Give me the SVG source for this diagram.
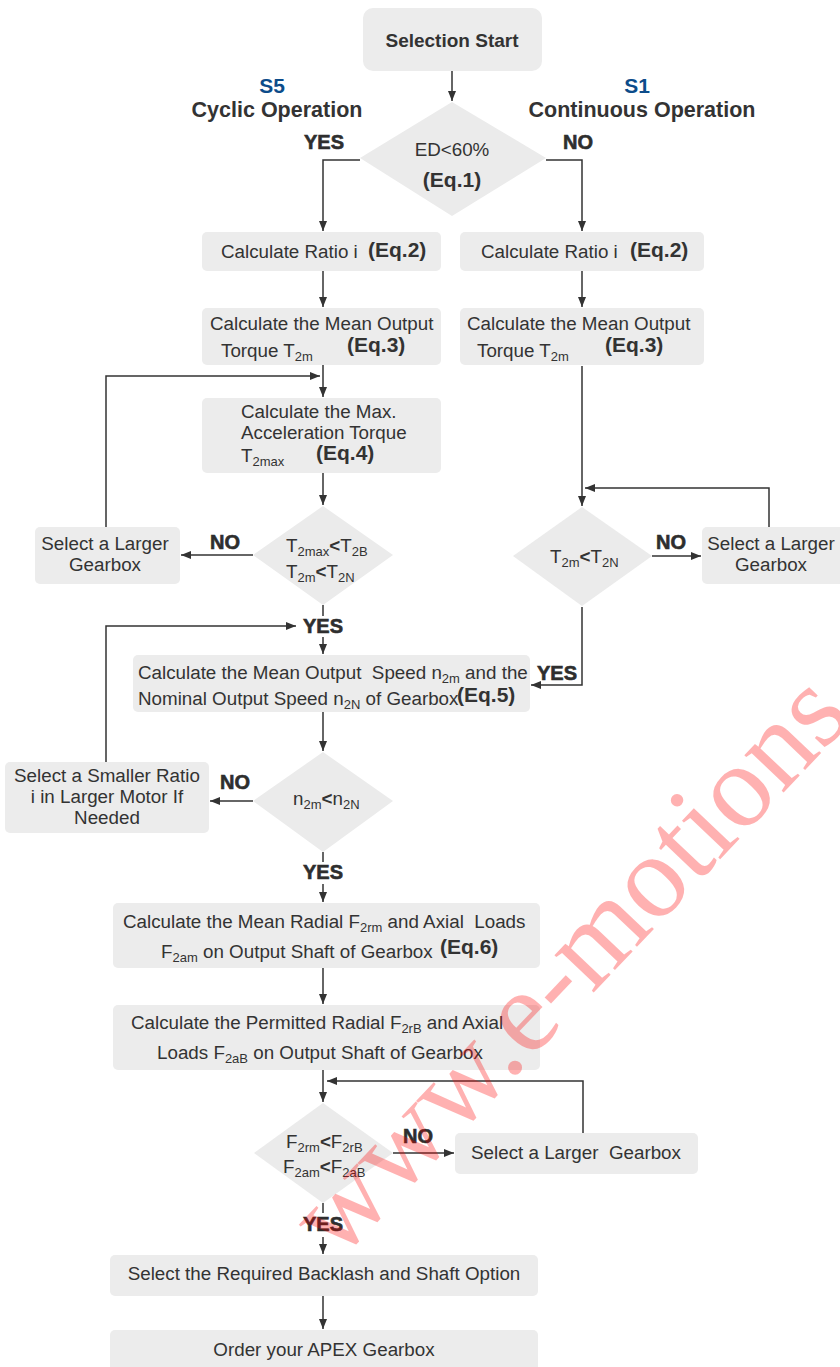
<svg xmlns="http://www.w3.org/2000/svg" width="840" height="1367" viewBox="0 0 840 1367">
<defs>
<marker id="ah" markerUnits="userSpaceOnUse" markerWidth="10" markerHeight="8" refX="10" refY="4" orient="auto">
<path d="M0,0 L10,4 L0,8 Z" fill="#333"/>
</marker>
<style>
.box{fill:#ececec;}
.dia{fill:#ebebeb;}
.t{font-family:"Liberation Sans",Arial,sans-serif;font-size:18.8px;fill:#333;}
.b{font-family:"Liberation Sans",Arial,sans-serif;font-size:19px;font-weight:bold;fill:#333;}
.lab{font-family:"Liberation Sans",Arial,sans-serif;font-size:20px;font-weight:bold;fill:#2e2e2e;stroke:#2e2e2e;stroke-width:0.6;}
.eq{font-family:"Liberation Sans",Arial,sans-serif;font-size:21px;font-weight:bold;fill:#333;}
.hd{font-family:"Liberation Sans",Arial,sans-serif;font-size:21.5px;font-weight:bold;fill:#333;}
.blue{font-family:"Liberation Sans",Arial,sans-serif;font-size:21px;font-weight:bold;fill:#0c4c8a;}
.c{text-anchor:middle;}
.s{font-size:13px;}
.ln{fill:none;stroke:#333;stroke-width:1.5;}
.wm{font-family:"Liberation Serif","Times New Roman",serif;font-size:118px;fill:#ff0000;opacity:0.3;}
</style>
</defs>

<g id="connectors">
<path class="ln" d="M452,71 V101" marker-end="url(#ah)"/>
<path class="ln" d="M360,160 H323 V231" marker-end="url(#ah)"/>
<path class="ln" d="M546,160 H582 V231" marker-end="url(#ah)"/>
<path class="ln" d="M323,271 V307" marker-end="url(#ah)"/>
<path class="ln" d="M582,271 V307" marker-end="url(#ah)"/>
<path class="ln" d="M323,365 V397" marker-end="url(#ah)"/>
<path class="ln" d="M106,527 V376 H320" marker-end="url(#ah)"/>
<path class="ln" d="M323,473 V505" marker-end="url(#ah)"/>
<path class="ln" d="M253,555 H181" marker-end="url(#ah)"/>
<path class="ln" d="M582,366 V506" marker-end="url(#ah)"/>
<path class="ln" d="M769,527 V488 H585" marker-end="url(#ah)"/>
<path class="ln" d="M652,556 H701" marker-end="url(#ah)"/>
<path class="ln" d="M582,607 V685 H531" marker-end="url(#ah)"/>
<path class="ln" d="M323,605 V616"/>
<path class="ln" d="M323,637 V654" marker-end="url(#ah)"/>
<path class="ln" d="M106,762 V626 H296" marker-end="url(#ah)"/>
<path class="ln" d="M323,712 V751" marker-end="url(#ah)"/>
<path class="ln" d="M253,801 H210" marker-end="url(#ah)"/>
<path class="ln" d="M323,852 V862"/>
<path class="ln" d="M323,884 V902" marker-end="url(#ah)"/>
<path class="ln" d="M323,968 V1004" marker-end="url(#ah)"/>
<path class="ln" d="M323,1070 V1102" marker-end="url(#ah)"/>
<path class="ln" d="M583,1133 V1081 H327" marker-end="url(#ah)"/>
<path class="ln" d="M393,1153 H454" marker-end="url(#ah)"/>
<path class="ln" d="M323,1203 V1213"/>
<path class="ln" d="M323,1237 V1254" marker-end="url(#ah)"/>
<path class="ln" d="M323,1296 V1329" marker-end="url(#ah)"/>
</g>

<g id="headers">
<text class="blue c" x="272" y="93">S5</text>
<text class="hd c" x="277" y="117">Cyclic Operation</text>
<text class="blue c" x="637" y="93">S1</text>
<text class="hd c" x="642" y="117">Continuous Operation</text>
</g>

<g id="start">
<rect class="box" x="363" y="8" width="179" height="63" rx="10"/>
<text class="b c" x="452" y="47">Selection Start</text>
</g>

<g id="d-ed">
<polygon class="dia" points="452,102 546,158 452,216 360,158"/>
<text class="t c" x="452" y="156">ED&lt;60%</text>
<text class="eq c" x="452" y="187">(Eq.1)</text>
</g>
<text class="lab c" x="324" y="149">YES</text>
<text class="lab c" x="578" y="149">NO</text>

<g id="ratio-l">
<rect class="box" x="202" y="232" width="239" height="39" rx="5"/>
<text class="t" x="221" y="258">Calculate Ratio i</text>
<text class="eq" x="368" y="257">(Eq.2)</text>
</g>
<g id="ratio-r">
<rect class="box" x="460" y="232" width="244" height="39" rx="5"/>
<text class="t" x="481" y="258">Calculate Ratio i</text>
<text class="eq" x="630" y="257">(Eq.2)</text>
</g>

<g id="mean-l">
<rect class="box" x="202" y="308" width="239" height="57" rx="5"/>
<text class="t" x="210" y="330">Calculate the Mean Output</text>
<text class="t" x="221" y="357">Torque T<tspan class="s" dy="4">2m</tspan></text>
<text class="eq" x="347" y="352">(Eq.3)</text>
</g>
<g id="mean-r">
<rect class="box" x="460" y="308" width="244" height="57" rx="5"/>
<text class="t" x="467" y="330">Calculate the Mean Output</text>
<text class="t" x="477" y="357">Torque T<tspan class="s" dy="4">2m</tspan></text>
<text class="eq" x="605" y="352">(Eq.3)</text>
</g>

<g id="max">
<rect class="box" x="202" y="398" width="239" height="75" rx="5"/>
<text class="t" x="241" y="418">Calculate the Max.</text>
<text class="t" x="241" y="439">Acceleration Torque</text>
<text class="t" x="241" y="462">T<tspan class="s" dy="4">2max</tspan></text>
<text class="eq" x="316" y="460">(Eq.4)</text>
</g>

<g id="d-t2max">
<polygon class="dia" points="323,506 393,555 323,605 253,555"/>
<text class="t" x="286" y="552">T<tspan class="s" dy="4">2max</tspan><tspan dy="-4" font-weight="bold">&lt;</tspan>T<tspan class="s" dy="4">2B</tspan></text>
<text class="t" x="286" y="578">T<tspan class="s" dy="4">2m</tspan><tspan dy="-4" font-weight="bold">&lt;</tspan>T<tspan class="s" dy="4">2N</tspan></text>
</g>
<text class="lab c" x="225" y="549">NO</text>

<g id="larger-l">
<rect class="box" x="35" y="527" width="145" height="57" rx="5"/>
<text class="t c" x="105" y="550">Select a Larger</text>
<text class="t c" x="105" y="571">Gearbox</text>
</g>

<g id="d-t2m">
<polygon class="dia" points="582,507 652,556 582,606 513,556"/>
<text class="t" x="550" y="563">T<tspan class="s" dy="4">2m</tspan><tspan dy="-4" font-weight="bold">&lt;</tspan>T<tspan class="s" dy="4">2N</tspan></text>
</g>
<text class="lab c" x="671" y="549">NO</text>

<g id="larger-r">
<rect class="box" x="702" y="527" width="145" height="57" rx="5"/>
<text class="t c" x="771" y="550">Select a Larger</text>
<text class="t c" x="771" y="571">Gearbox</text>
</g>

<text class="lab c" x="323" y="633">YES</text>
<text class="lab c" x="557" y="680">YES</text>

<g id="speed">
<rect class="box" x="133" y="655" width="397" height="57" rx="5"/>
<text class="t" x="138" y="679">Calculate the Mean Output&#160; Speed n<tspan class="s" dy="4">2m</tspan><tspan dy="-4"> and the</tspan></text>
<text class="t" x="138" y="705">Nominal Output Speed n<tspan class="s" dy="4">2N</tspan><tspan dy="-4"> of Gearbox</tspan></text>
<text class="eq" x="457" y="702">(Eq.5)</text>
</g>

<g id="d-n">
<polygon class="dia" points="323,752 393,801 323,852 253,801"/>
<text class="t" x="293" y="805">n<tspan class="s" dy="4">2m</tspan><tspan dy="-4" font-weight="bold">&lt;</tspan>n<tspan class="s" dy="4">2N</tspan></text>
</g>
<text class="lab c" x="235" y="789">NO</text>

<g id="smaller">
<rect class="box" x="5" y="762" width="204" height="71" rx="5"/>
<text class="t c" x="107" y="782">Select a Smaller Ratio</text>
<text class="t c" x="107" y="803">i in Larger Motor If</text>
<text class="t c" x="107" y="824">Needed</text>
</g>

<text class="lab c" x="323" y="879">YES</text>

<g id="radial">
<rect class="box" x="113" y="903" width="427" height="65" rx="5"/>
<text class="t" x="123" y="928">Calculate the Mean Radial F<tspan class="s" dy="4">2rm</tspan><tspan dy="-4"> and Axial&#160; Loads</tspan></text>
<text class="t" x="161" y="958">F<tspan class="s" dy="4">2am</tspan><tspan dy="-4"> on Output Shaft of Gearbox</tspan></text>
<text class="eq" x="440" y="954">(Eq.6)</text>
</g>

<g id="permitted">
<rect class="box" x="113" y="1005" width="427" height="65" rx="5"/>
<text class="t" x="131" y="1029">Calculate the Permitted Radial F<tspan class="s" dy="4">2rB</tspan><tspan dy="-4"> and Axial</tspan></text>
<text class="t" x="157" y="1059">Loads F<tspan class="s" dy="4">2aB</tspan><tspan dy="-4"> on Output Shaft of Gearbox</tspan></text>
</g>

<g id="d-f">
<polygon class="dia" points="323,1103 393,1153 323,1203 254,1153"/>
<text class="t" x="286" y="1148">F<tspan class="s" dy="4">2rm</tspan><tspan dy="-4" font-weight="bold">&lt;</tspan>F<tspan class="s" dy="4">2rB</tspan></text>
<text class="t" x="283" y="1173">F<tspan class="s" dy="4">2am</tspan><tspan dy="-4" font-weight="bold">&lt;</tspan>F<tspan class="s" dy="4">2aB</tspan></text>
</g>
<text class="lab c" x="418" y="1143">NO</text>

<g id="larger-b">
<rect class="box" x="455" y="1133" width="243" height="41" rx="5"/>
<text class="t c" x="576" y="1159">Select a Larger&#160; Gearbox</text>
</g>

<text class="lab c" x="323" y="1231">YES</text>

<g id="backlash">
<rect class="box" x="110" y="1255" width="428" height="41" rx="5"/>
<text class="t c" x="324" y="1280">Select the Required Backlash and Shaft Option</text>
</g>

<g id="order">
<rect class="box" x="110" y="1330" width="428" height="45" rx="5"/>
<text class="t c" x="324" y="1356">Order your APEX Gearbox</text>
</g>

<text class="wm" transform="translate(338,1262) rotate(-46.5)">www.e-motions</text>
</svg>
